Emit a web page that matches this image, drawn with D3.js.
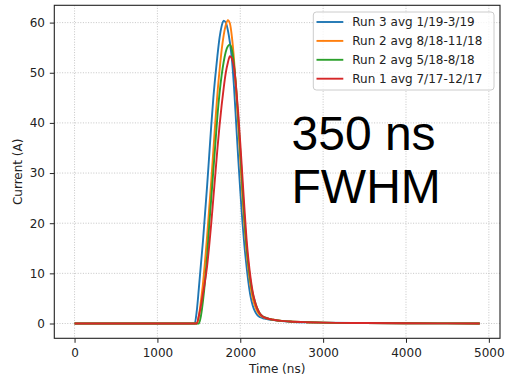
<!DOCTYPE html>
<html>
<head>
<meta charset="utf-8">
<script src="https://cdn.jsdelivr.net/npm/d3@7"></script>
<style>
  body { margin: 0; background: #fff; }
  text { font-family: "DejaVu Sans", sans-serif; fill: #222; }
</style>
</head>
<body>
<div id="chart"></div>
<script>
// time axis (ns), shared by all four runs
const timeNs = [0, 1400,
  1450, 1475, 1500, 1525, 1550, 1575, 1600, 1625, 1650, 1675,
  1700, 1725, 1750, 1775, 1800, 1825, 1850, 1875, 1900, 1925,
  1950, 1975, 2000, 2025, 2050, 2075, 2100, 2125, 2150, 2175,
  2200, 2225, 2250, 2275, 2300,
  2350, 2400, 2500, 2600, 2800, 3000, 3500, 4000, 4500, 4890];

const run3 = [0, 0,
  0, 2.5, 7, 11.8, 16.5, 22, 27.5, 33.5, 39.5, 45,
  49.5, 53.5, 57, 59.3, 60.4, 60, 58.5, 56, 52.5, 47,
  40, 33, 26.5, 20.5, 15.5, 11.5, 8, 5.3, 3.6, 2.5,
  1.8, 1.4, 1.2, 1.05, 0.95,
  0.8, 0.68, 0.48, 0.36, 0.24, 0.17, 0.1, 0.05, 0.02, 0];

const run2b = [0, 0,
  0, 0, 1.5, 4.5, 8, 12.5, 17.5, 23, 28.5, 34.5,
  40.5, 46, 50.5, 54.5, 57.5, 59.5, 60.5, 59.8, 57, 52.5,
  46.5, 39.5, 32.5, 25.5, 19.5, 14.5, 10.5, 7.3, 5, 3.6,
  2.6, 1.9, 1.5, 1.3, 1.1,
  0.9, 0.75, 0.52, 0.4, 0.26, 0.18, 0.1, 0.05, 0.02, 0];

const run2a = [0, 0,
  0, 0, 0, 1.5, 4.5, 8.5, 13.5, 19.5, 25, 30.5,
  36, 41.5, 46, 49.5, 52.2, 54.2, 55.3, 55.6, 54.5, 51.5,
  47, 41, 34.5, 27.5, 21, 15.5, 11.5, 8.3, 6, 4.5,
  3.2, 2.3, 1.7, 1.4, 1.2,
  0.9, 0.75, 0.52, 0.4, 0.26, 0.18, 0.1, 0.05, 0.02, 0];

const run1 = [0, 0,
  0, 0, 1.5, 3.5, 6, 8.5, 11.5, 15.5, 20, 25,
  30, 35, 39.5, 43.5, 47, 50, 52, 53.3, 52.8, 51,
  47, 42, 36, 29.5, 23, 17, 12.5, 9, 6.3, 4.5,
  3.2, 2.3, 1.7, 1.35, 1.15,
  0.9, 0.75, 0.52, 0.4, 0.26, 0.18, 0.1, 0.05, 0.02, 0];

const seriesLabels = ['Run 3 avg 1/19-3/19', 'Run 2 avg 8/18-11/18', 'Run 2 avg 5/18-8/18', 'Run 1 avg 7/17-12/17'];
const seriesColors = ['#1f77b4', '#ff7f0e', '#2ca02c', '#d62728'];
const seriesValues = [run3, run2b, run2a, run1];

const xTicks = [0, 1000, 2000, 3000, 4000, 5000];
const yTicks = [0, 10, 20, 30, 40, 50, 60];

const width = 505, height = 380;
const plot = { left: 54.3, right: 500, top: 5.3, bottom: 338.3 };

const svg = d3.select('#chart').append('svg')
    .attr('width', width)
    .attr('height', height);

const x = d3.scaleLinear().domain([-244.5, 5134.5]).range([plot.left, plot.right]);
const y = d3.scaleLinear().domain([-2.95, 63.45]).range([plot.bottom, plot.top]);

// dotted grid
const grid = svg.append('g').attr('class', 'grid')
    .attr('stroke', '#b8b8b8')
    .attr('stroke-width', 0.8)
    .attr('stroke-dasharray', '1,1.6');
xTicks.forEach(t => {
    grid.append('line')
        .attr('x1', x(t)).attr('x2', x(t))
        .attr('y1', plot.top).attr('y2', plot.bottom);
});
yTicks.forEach(t => {
    grid.append('line')
        .attr('x1', plot.left).attr('x2', plot.right)
        .attr('y1', y(t)).attr('y2', y(t));
});

// curves
const line = d3.line()
    .x((d, i) => x(timeNs[i]))
    .y(d => y(d))
    .curve(d3.curveMonotoneX);

seriesValues.forEach((vals, i) => {
    svg.append('path')
        .datum(vals)
        .attr('fill', 'none')
        .attr('stroke', seriesColors[i])
        .attr('stroke-width', 1.9)
        .attr('stroke-linejoin', 'round')
        .attr('d', line);
});

// axes
const xAxis = svg.append('g')
    .attr('transform', `translate(0,${plot.bottom})`)
    .call(d3.axisBottom(x).tickValues(xTicks).tickSize(4.5).tickPadding(5.5).tickFormat(d3.format('d')));
const yAxis = svg.append('g')
    .attr('transform', `translate(${plot.left},0)`)
    .call(d3.axisLeft(y).tickValues(yTicks).tickSize(4.5).tickPadding(4.8).tickFormat(d3.format('d')));

[xAxis, yAxis].forEach(ax => {
    ax.select('.domain').remove();
    ax.selectAll('line').attr('stroke', '#222').attr('stroke-width', 1);
    ax.selectAll('text')
        .style('font-family', '"DejaVu Sans", sans-serif')
        .style('font-size', '12px')
        .attr('fill', '#222');
});

// spines
svg.append('rect')
    .attr('x', plot.left).attr('y', plot.top)
    .attr('width', plot.right - plot.left)
    .attr('height', plot.bottom - plot.top)
    .attr('fill', 'none')
    .attr('stroke', '#222')
    .attr('stroke-width', 1.1);

// axis labels
svg.append('text')
    .attr('x', (plot.left + plot.right) / 2)
    .attr('y', 373)
    .attr('text-anchor', 'middle')
    .style('font-size', '12px')
    .text('Time (ns)');

svg.append('text')
    .attr('transform', `translate(21.5,${(plot.top + plot.bottom) / 2}) rotate(-90)`)
    .attr('text-anchor', 'middle')
    .style('font-size', '12px')
    .text('Current (A)');

// big annotation
const note = svg.append('text')
    .style('font-family', '"Liberation Sans", Arial, sans-serif')
    .style('font-size', '48px')
    .style('fill', '#000');
note.append('tspan').attr('x', 291.5).attr('y', 150).text('350 ns');
note.append('tspan').attr('x', 291.5).attr('y', 203.3).text('FWHM');

// legend
const legend = svg.append('g').attr('class', 'legend');
legend.append('rect')
    .attr('x', 313.3).attr('y', 12)
    .attr('width', 180.7).attr('height', 78)
    .attr('rx', 3)
    .attr('fill', '#fff')
    .attr('fill-opacity', 0.8)
    .attr('stroke', '#cccccc')
    .attr('stroke-width', 1);

seriesLabels.forEach((label, i) => {
    const cy = 22 + i * 18.9;
    legend.append('line')
        .attr('x1', 316.5).attr('x2', 343.3)
        .attr('y1', cy).attr('y2', cy)
        .attr('stroke', seriesColors[i])
        .attr('stroke-width', 1.9);
    legend.append('text')
        .attr('x', 352.3)
        .attr('y', cy + 4.4)
        .style('font-size', '12px')
        .text(label);
});
</script>
</body>
</html>
